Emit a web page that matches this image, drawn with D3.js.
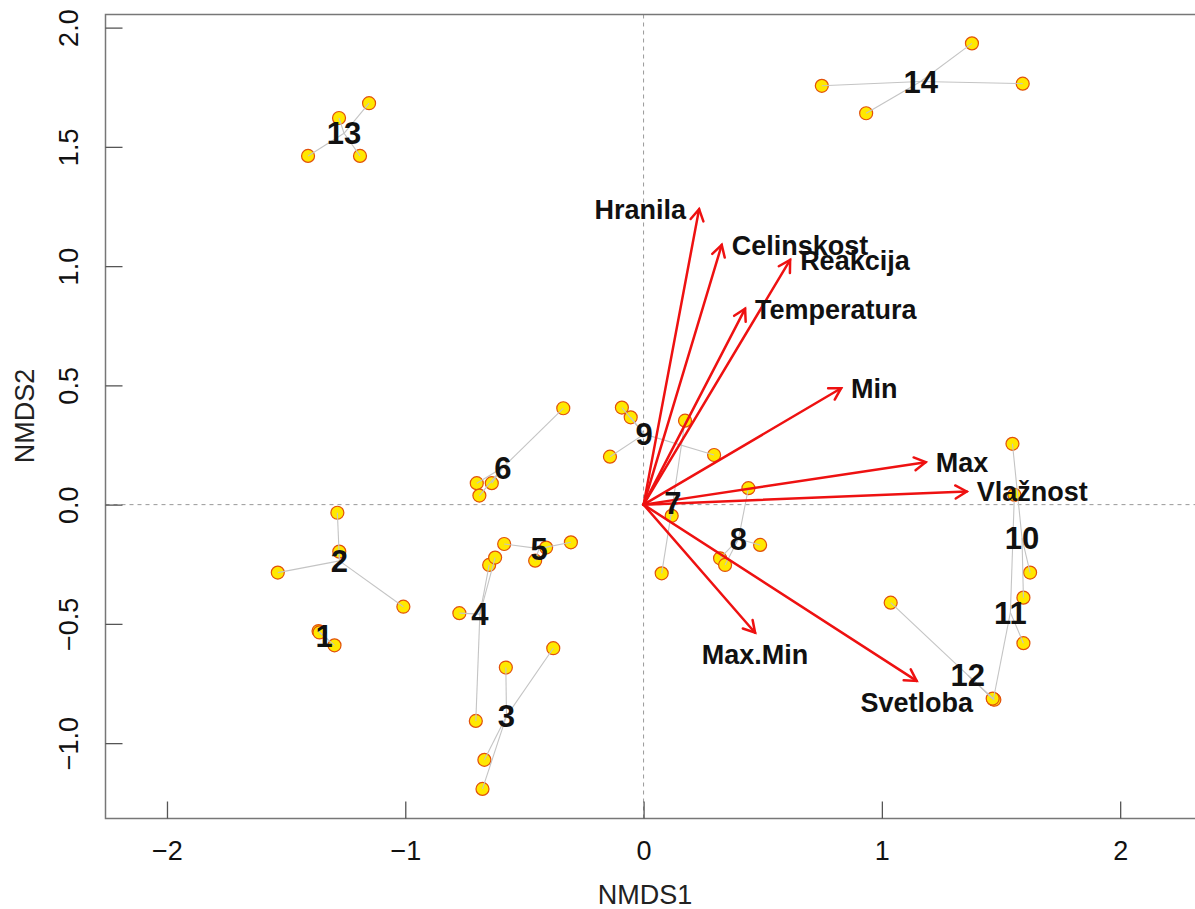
<!DOCTYPE html>
<html>
<head>
<meta charset="utf-8">
<script src="https://cdn.jsdelivr.net/npm/d3@7"></script>
<style>
  html, body { margin: 0; padding: 0; background: #fff; }
  svg { display: block; font-family: "Liberation Sans", Arial, sans-serif; }
</style>
</head>
<body>
<svg id="chart" width="1195" height="909"></svg>
<script>
// NMDS site scores and the group (plot) each site belongs to
const siteNMDS1 = [
  -1.364, -1.360, -1.297,
  -1.285, -1.277, -1.535, -1.008,
  -0.578, -0.379, -0.668, -0.676,
  -0.773, -0.704, -0.648, -0.623,
  -0.585, -0.455, -0.409, -0.305,
  -0.337, -0.700, -0.637, -0.689,
   0.174,  0.118,  0.076,
   0.440,  0.489,  0.321,  0.342,
  -0.091, -0.054, -0.141,  0.296,
   1.548,  1.622,  1.594,
   1.556,  1.594,  1.468,
   1.037,  1.468,  1.472,  1.465,
  -1.408, -1.278, -1.152, -1.190,
   0.748,  0.934,  1.378,  1.591
];
const siteNMDS2 = [
  -0.530, -0.536, -0.590,
  -0.034, -0.197, -0.285, -0.428,
  -0.683, -0.602, -1.070, -1.192,
  -0.455, -0.907, -0.253, -0.222,
  -0.165, -0.235, -0.180, -0.158,
   0.404,  0.090,  0.090,  0.038,
   0.352, -0.047, -0.288,
   0.069, -0.169, -0.225, -0.253,
   0.407,  0.366,  0.201,  0.208,
   0.255, -0.285, -0.390,
   0.041, -0.581, -0.816,
  -0.411, -0.816, -0.818, -0.813,
   1.462,  1.621,  1.683,  1.462,
   1.756,  1.641,  1.934,  1.765
];
const siteGroup = [
  1, 1, 1,
  2, 2, 2, 2,
  3, 3, 3, 3,
  4, 4, 4, 4,
  5, 5, 5, 5,
  6, 6, 6, 6,
  7, 7, 7,
  8, 8, 8, 8,
  9, 9, 9, 9,
  10, 10, 10,
  11, 11, 11,
  12, 12, 12, 12,
  13, 13, 13, 13,
  14, 14, 14, 14
];

// Fitted environmental vectors
const envNames  = ["Hranila", "Celinskost", "Reakcija", "Temperatura", "Min", "Max", "Vlažnost", "Max.Min", "Svetloba"];
const envNMDS1  = [0.233, 0.328, 0.615, 0.426, 0.829, 1.184, 1.356, 0.468, 1.146];
const envNMDS2  = [1.239, 1.089, 1.026, 0.821, 0.488, 0.178, 0.055, -0.537, -0.739];
const envLabelSide = ["left", "right", "right", "right", "right", "right", "right", "below", "below"];

// Axis ticks
const xTicks = [-2, -1, 0, 1, 2];
const yTicks = [-1.0, -0.5, 0.0, 0.5, 1.0, 1.5, 2.0];

const svg = d3.select("#chart");
const plot = { left: 105.5, top: 14.5, right: 1200, bottom: 818.5 };

const x = d3.scaleLinear().domain([-2.258, 2.335]).range([plot.left, plot.right]);
const y = d3.scaleLinear().domain([-1.316, 2.055]).range([plot.bottom, plot.top]);

const sites = siteNMDS1.map((v, i) => ({ x: v, y: siteNMDS2[i], g: siteGroup[i] }));
const groups = d3.groups(sites, d => d.g).map(([g, pts]) => ({
  g, pts, cx: d3.mean(pts, p => p.x), cy: d3.mean(pts, p => p.y)
}));

// zero reference lines
svg.append("line")
  .attr("x1", x(0)).attr("x2", x(0)).attr("y1", plot.top).attr("y2", plot.bottom)
  .attr("stroke", "#999").attr("stroke-width", 1).attr("stroke-dasharray", "4,4");
svg.append("line")
  .attr("x1", plot.left).attr("x2", plot.right).attr("y1", y(0)).attr("y2", y(0))
  .attr("stroke", "#999").attr("stroke-width", 1).attr("stroke-dasharray", "4,4");

// site points
svg.append("g").selectAll("circle").data(sites).join("circle")
  .attr("cx", d => x(d.x)).attr("cy", d => y(d.y)).attr("r", 6.5)
  .attr("fill", "#ffe800").attr("stroke", "#e2500a").attr("stroke-width", 1.2);

// spider lines from each site to its group centroid
const spider = svg.append("g");
groups.forEach(gr => {
  spider.selectAll(null).data(gr.pts).join("line")
    .attr("x1", x(gr.cx)).attr("y1", y(gr.cy))
    .attr("x2", d => x(d.x)).attr("y2", d => y(d.y))
    .attr("stroke", "#c4c4c4").attr("stroke-width", 1.1);
});

// environmental arrows
const arrows = svg.append("g").attr("stroke", "#ee1111").attr("stroke-width", 2.5)
  .attr("fill", "none").attr("stroke-linecap", "round");
envNames.forEach((name, i) => {
  const x0 = x(0), y0 = y(0), x1 = x(envNMDS1[i]), y1 = y(envNMDS2[i]);
  arrows.append("line").attr("x1", x0).attr("y1", y0).attr("x2", x1).attr("y2", y1);
  const a = Math.atan2(y1 - y0, x1 - x0), L = 13, s = Math.PI / 6;
  arrows.append("path").attr("d",
    `M${x1 - L * Math.cos(a - s)},${y1 - L * Math.sin(a - s)}L${x1},${y1}L${x1 - L * Math.cos(a + s)},${y1 - L * Math.sin(a + s)}`)
    .attr("stroke-linejoin", "miter");
});

// group labels at centroids
svg.append("g").selectAll("text").data(groups).join("text")
  .attr("x", d => x(d.cx)).attr("y", d => y(d.cy)).attr("dy", "0.36em")
  .attr("text-anchor", "middle").attr("font-size", 31).attr("font-weight", "bold")
  .attr("fill", "#111").text(d => d.g);

// environmental vector labels
svg.append("g").selectAll("text").data(envNames).join("text")
  .attr("x", (d, i) => {
    const px = x(envNMDS1[i]);
    return envLabelSide[i] === "left" ? px - 13 : envLabelSide[i] === "right" ? px + 10 : px;
  })
  .attr("y", (d, i) => y(envNMDS2[i]) + (envLabelSide[i] === "below" ? 31 : 0))
  .attr("dy", (d, i) => envLabelSide[i] === "below" ? 0 : "0.36em")
  .attr("text-anchor", (d, i) => envLabelSide[i] === "left" ? "end" : envLabelSide[i] === "right" ? "start" : "middle")
  .attr("font-size", 27).attr("font-weight", "bold").attr("fill", "#111")
  .text(d => d);

// plot frame
svg.append("rect")
  .attr("x", plot.left).attr("y", plot.top)
  .attr("width", plot.right - plot.left).attr("height", plot.bottom - plot.top)
  .attr("fill", "none").attr("stroke", "#777").attr("stroke-width", 1.5);

// axes with inward ticks
const xAxis = svg.append("g").attr("transform", `translate(0,${plot.bottom})`)
  .call(d3.axisBottom(x).tickValues(xTicks).tickSize(-17).tickPadding(35)
    .tickFormat(d => d3.format("d")(d).replace("-", "\u2212")));
const yAxis = svg.append("g").attr("transform", `translate(${plot.left},0)`)
  .call(d3.axisLeft(y).tickValues(yTicks).tickSize(-17).tickPadding(0)
    .tickFormat(d => d3.format(".1f")(d).replace("-", "\u2212")));
[xAxis, yAxis].forEach(ax => {
  ax.select(".domain").remove();
  ax.selectAll(".tick line").attr("stroke", "#555").attr("stroke-width", 1.3);
  ax.selectAll(".tick text").attr("font-size", 27).attr("fill", "#111")
    .attr("font-family", "Liberation Sans, Arial, sans-serif");
});
yAxis.selectAll(".tick text")
  .attr("transform", "translate(-37,0) rotate(-90)")
  .attr("x", 0).attr("dy", "0.35em").attr("text-anchor", "middle");
xAxis.selectAll(".tick text").attr("dy", "0.35em").attr("y", 32);

// axis titles
svg.append("text").attr("x", 645).attr("y", 904).attr("text-anchor", "middle")
  .attr("font-size", 27).attr("fill", "#222").text("NMDS1");
svg.append("text").attr("transform", "translate(34,416) rotate(-90)")
  .attr("text-anchor", "middle").attr("font-size", 27).attr("fill", "#222").text("NMDS2");
</script>
</body>
</html>
